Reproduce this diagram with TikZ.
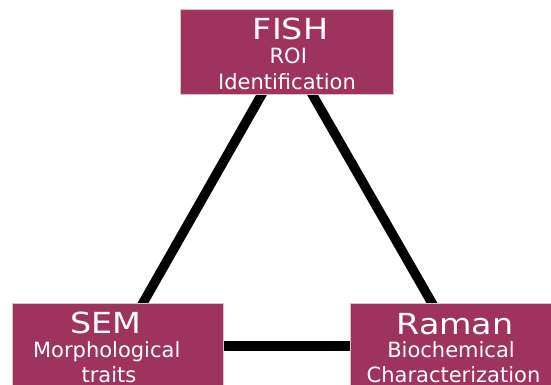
\documentclass[tikz,border=0pt]{standalone}
\usepackage{fontspec}
\setmainfont{DejaVu Sans}
\newfontfamily\titlefont{DejaVu Sans}[FakeStretch=1.15]
\usetikzlibrary{calc,backgrounds}
\definecolor{boxfill}{RGB}{158,52,94}
\definecolor{boxline}{RGB}{214,196,204}
\tikzset{
  box/.style={rectangle, fill=boxfill, draw=boxline, line width=0.6pt,
    minimum width=#1, minimum height=85pt, inner sep=0pt, outer sep=0pt},
  ttl/.style={text=white, font=\titlefont\fontsize{29}{31}\selectfont, anchor=base, inner sep=0pt},
  sub/.style={text=white, font=\fontsize{21}{23}\selectfont, anchor=base, inner sep=0pt},
  link/.style={line width=9.5pt, black, shorten <=-6pt, shorten >=-6pt}
}
\begin{document}
\begin{tikzpicture}[x=1pt,y=-1pt]
\useasboundingbox (0,0) rectangle (551,385);
\clip (0,0) rectangle (551,385);
% boxes
\node[box=213pt] (fish) at (286.5,51.5) {};
\node[box=211pt] (sem) at (117.5,345.75) {};
\node[box=211pt] (raman) at (455.5,345.75) {};
% texts
\node[ttl] (fisht) at (290.5,40) {FISH};
\node[sub] (fish1) at (288.3,63.3) {ROI};
\node[sub] (fish2) at (287,89.5) {Identification};
\node[ttl] (semt) at (106,333.5) {SEM};
\node[sub] (sem1) at (106.7,357) {Morphological};
\node[sub] (sem2) at (109,382.5) {traits};
\node[ttl] (ramant) at (455,334) {Raman};
\node[sub] (raman1) at (451,357) {Biochemical};
\node[sub] (raman2) at (453.5,382.5) {Characterization};
% connectors
\begin{scope}[on background layer]
\fill[white] (0,0) rectangle (551,385);
\draw[link] ($(fish.south west)!0.385!(fish.south east)$) -- ($(sem.north west)!0.62!(sem.north east)$);
\draw[link] ($(fish.south west)!0.62!(fish.south east)$) -- ($(raman.north west)!0.389!(raman.north east)$);
\draw[link] (sem.east) -- (raman.west);
\end{scope}
\end{tikzpicture}
\end{document}
